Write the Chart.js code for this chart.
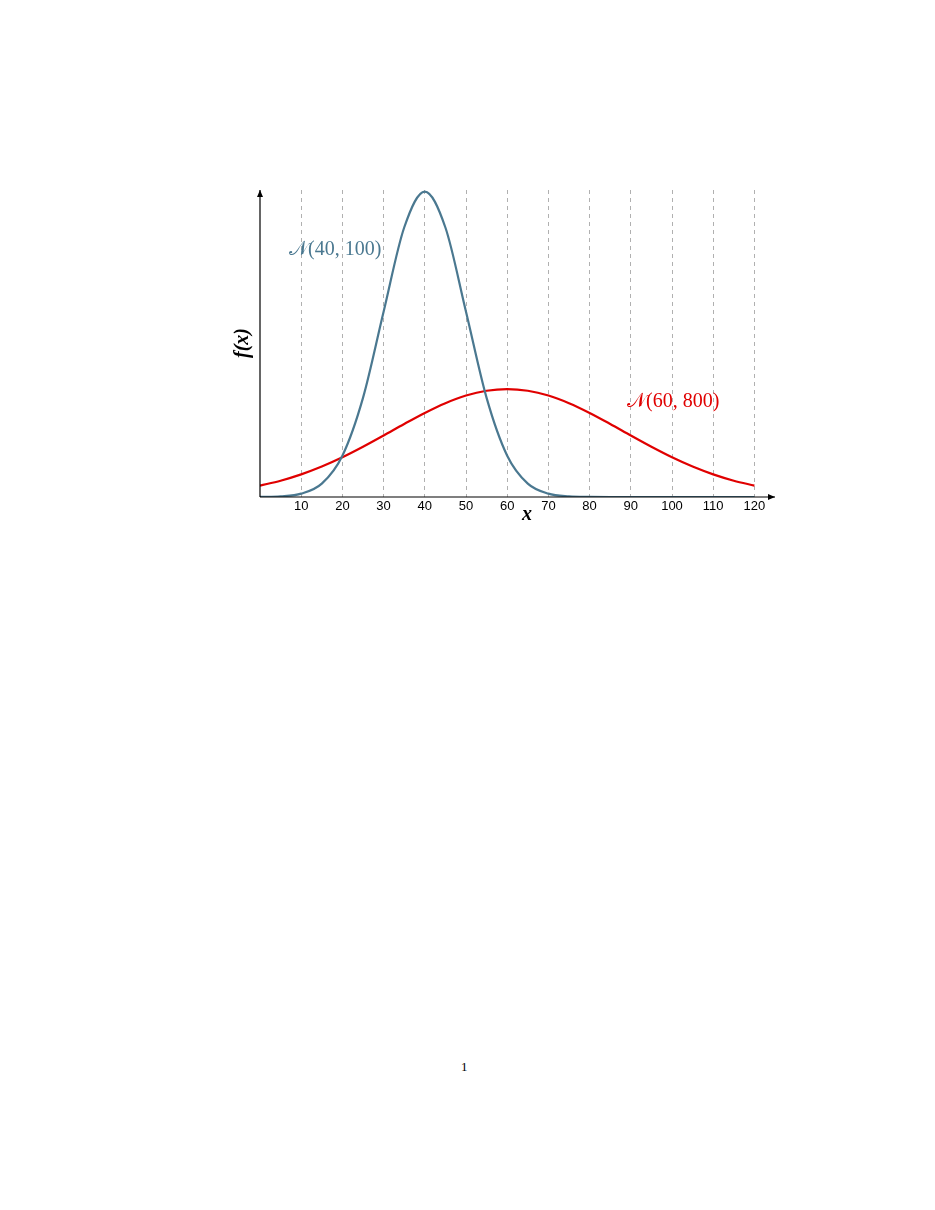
<!DOCTYPE html>
<html><head><meta charset="utf-8">
<script src="https://cdn.jsdelivr.net/npm/chart.js@4"></script>
<style>
body{margin:0;width:935px;height:1210px;background:#fff;position:relative;font-family:"Liberation Serif",serif}
#wrap{position:absolute;left:200px;top:170px;width:600px;height:370px}
#pg{position:absolute;left:461px;top:1059px;font-size:13px}
</style></head><body>
<div id="wrap"><canvas id="c"></canvas></div>
<div id="pg">1</div>
<script>
const xs = [0,5,10,15,20,25,30,35,40,45,50,55,60,65,70,75,80,85,90,95,100,105,110,115,120];
const blueVals = [0.0000134,0.0000874,0.000443,0.00175,0.0054,0.01295,0.0242,0.0352,0.0399,0.0352,0.0242,0.01295,0.0054,0.00175,0.000443,0.0000874,0.0000134,0,0,0,0,0,0,0,0];
const redVals = [0.00149,0.00213,0.00296,0.00398,0.00519,0.00656,0.00803,0.00954,0.01098,0.01225,0.01325,0.01388,0.0141,0.01388,0.01325,0.01225,0.01098,0.00954,0.00803,0.00656,0.00519,0.00398,0.00296,0.00213,0.00149];
const tickVals = [10,20,30,40,50,60,70,80,90,100,110,120];
const pts = v => xs.map((x,i)=>({x, y:v[i]}));
const deco = {
  id:'deco',
  afterDraw(ch){
    const c=ch.ctx, a=ch.chartArea, sx=ch.scales.x, sy=ch.scales.y;
    c.save();
    c.strokeStyle='#000'; c.fillStyle='#000'; c.lineWidth=1.2;
    c.beginPath(); c.moveTo(a.left,a.bottom); c.lineTo(a.right,a.bottom);
    c.moveTo(a.left,a.bottom); c.lineTo(a.left,a.top); c.stroke();
    c.beginPath(); c.moveTo(a.right,a.bottom); c.lineTo(a.right-7,a.bottom-3); c.lineTo(a.right-7,a.bottom+3); c.fill();
    c.beginPath(); c.moveTo(a.left,a.top); c.lineTo(a.left-3,a.top+7); c.lineTo(a.left+3,a.top+7); c.fill();
    c.font='italic bold 20px "Liberation Serif"';
    c.textAlign='center'; c.textBaseline='middle';
    c.fillText('x', 527-200, 515-170);
    c.save(); c.translate(243-200, 343-170); c.rotate(-Math.PI/2); c.fillText('f(x)',0,0); c.restore();
    c.font='20px "Liberation Serif"'; c.textAlign='left';
    c.fillStyle='#4a7890'; c.fillText('𝒩(40, 100)', 289-200, 250-170);
    c.fillStyle='#e00000'; c.fillText('𝒩(60, 800)', 627-200, 402-170);
    c.restore();
  }
};
new Chart(document.getElementById('c'),{
  type:'line',
  data:{datasets:[
    {data:pts(blueVals),borderColor:'#4a7890',borderWidth:2.2,pointRadius:0,cubicInterpolationMode:'monotone',fill:false},
    {data:pts(redVals),borderColor:'#e00000',borderWidth:2.2,pointRadius:0,cubicInterpolationMode:'monotone',fill:false}
  ]},
  options:{
    responsive:true,maintainAspectRatio:false,animation:false,
    layout:{padding:{left:60,right:25,top:20,bottom:13}},
    plugins:{legend:{display:false},tooltip:{enabled:false}},
    scales:{
      x:{type:'linear',min:0,max:125,
        afterBuildTicks:s=>{s.ticks=tickVals.map(v=>({value:v}));},
        afterFit:s=>{s.height=30;},
        ticks:{color:'#000',font:{family:'Liberation Sans',size:13},padding:2},
        grid:{color:'#b0b0b0',lineWidth:1,drawTicks:false},
        border:{display:false,dash:[4,4]}},
      y:{display:false,min:0,max:0.0401}
    }
  },
  plugins:[deco]
});
</script>
</body></html>
